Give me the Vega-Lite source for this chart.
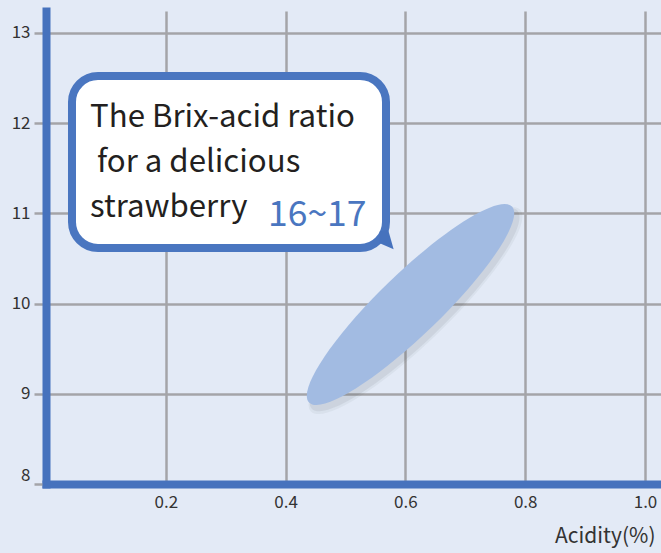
{
  "$schema": "https://vega.github.io/schema/vega-lite/v6.json",
  "width": 615,
  "height": 473,
  "autosize": {"type": "none"},
  "padding": {"left": 46, "top": 11, "right": 0, "bottom": 69},
  "background": "#e3eaf6",
  "config": {"view": {"stroke": null}, "font": "Noto Sans CJK JP"},
  "datasets": {
    "region": [{"acidity": 0.6085, "brix": 9.99, "name": "delicious strawberry"}],
    "bubble": [{"x1": 0.0434, "x2": 0.5676, "y1": 10.616, "y2": 12.523}],
    "tail": [{"x": 0.5693, "y": 10.683}],
    "notes": [
      {"x": 0.0735, "y": 11.958, "text": "The Brix-acid ratio", "kind": "body"},
      {"x": 0.0851, "y": 11.459, "text": "for a delicious", "kind": "body"},
      {"x": 0.0735, "y": 10.96, "text": "strawberry", "kind": "body"},
      {"x": 0.3706, "y": 10.86, "text": "16~17", "kind": "ratio"}
    ]
  },
  "layer": [
    {
      "data": {"name": "region"},
      "mark": {
        "type": "point",
        "filled": true,
        "shape": "M 1,0 C 1,0.1215 0.5523,0.22 0,0.22 C -0.5523,0.22 -1,0.1215 -1,0 C -1,-0.1215 -0.5523,-0.22 0,-0.22 C 0.5523,-0.22 1,-0.1215 1,0 Z",
        "angle": -44,
        "size": 84500,
        "color": "#4a4f5c",
        "opacity": 0.06,
        "xOffset": 5,
        "yOffset": 6
      },
      "encoding": {
        "x": {
          "field": "acidity",
          "type": "quantitative",
          "scale": {"domain": [0, 1.0267], "nice": false, "zero": false},
          "axis": {
            "values": [0.2, 0.4, 0.6, 0.8, 1.0],
            "format": ".1f",
            "title": "Acidity(%)",
            "titleFontSize": 21,
            "titleFontWeight": "normal",
            "titleColor": "#333333",
            "titleAnchor": "end",
            "titleAlign": "right",
            "titleBaseline": "alphabetic",
            "titleX": 609,
            "titleY": 58,
            "domainColor": "#4672bd",
            "domainWidth": 8,
            "domainCap": "square",
            "grid": true,
            "gridColor": "#a4a4a8",
            "gridWidth": 2.5,
            "ticks": false,
            "labelPadding": 10,
            "labelFontSize": 17,
            "labelColor": "#333333"
          }
        },
        "y": {
          "field": "brix",
          "type": "quantitative",
          "scale": {"domain": [8, 13.2439], "nice": false, "zero": false},
          "axis": {
            "values": [8, 9, 10, 11, 12, 13],
            "format": "d",
            "title": null,
            "domainColor": "#4672bd",
            "domainWidth": 8,
            "domainCap": "square",
            "grid": true,
            "gridColor": {"condition": {"test": "datum.value == 8", "value": "transparent"}, "value": "#a4a4a8"},
            "gridWidth": 2.5,
            "tickColor": "#a4a4a8",
            "tickWidth": 2.5,
            "tickSize": 12,
            "labelPadding": 4,
            "labelFontSize": 17,
            "labelColor": "#333333",
            "labelBaseline": {"condition": {"test": "datum.value == 8", "value": "bottom"}, "value": "middle"}
          }
        }
      }
    },
    {
      "data": {"name": "region"},
      "mark": {
        "type": "point",
        "filled": true,
        "shape": "M 1,0 C 1,0.1215 0.5523,0.22 0,0.22 C -0.5523,0.22 -1,0.1215 -1,0 C -1,-0.1215 -0.5523,-0.22 0,-0.22 C 0.5523,-0.22 1,-0.1215 1,0 Z",
        "angle": -44,
        "size": 81500,
        "color": "#4a4f5c",
        "opacity": 0.09,
        "xOffset": 4,
        "yOffset": 5
      },
      "encoding": {
        "x": {"field": "acidity", "type": "quantitative"},
        "y": {"field": "brix", "type": "quantitative"}
      }
    },
    {
      "data": {"name": "region"},
      "mark": {
        "type": "point",
        "filled": true,
        "shape": "M 1,0 C 1,0.1215 0.5523,0.22 0,0.22 C -0.5523,0.22 -1,0.1215 -1,0 C -1,-0.1215 -0.5523,-0.22 0,-0.22 C 0.5523,-0.22 1,-0.1215 1,0 Z",
        "angle": -44,
        "size": 79524,
        "color": "#a2bbe2",
        "opacity": 1
      },
      "encoding": {
        "x": {"field": "acidity", "type": "quantitative"},
        "y": {"field": "brix", "type": "quantitative"}
      }
    },
    {
      "data": {"name": "bubble"},
      "mark": {"type": "rect", "fill": "#ffffff", "stroke": "#4a76c0", "strokeWidth": 8, "cornerRadius": 26},
      "encoding": {
        "x": {"field": "x1", "type": "quantitative"},
        "x2": {"field": "x2"},
        "y": {"field": "y1", "type": "quantitative"},
        "y2": {"field": "y2"}
      }
    },
    {
      "data": {"name": "tail"},
      "mark": {
        "type": "point",
        "filled": true,
        "shape": "M -0.6,-0.9 L 0.1,-1 L 0.55,0.6 L -0.6,0.1 Z",
        "size": 576,
        "color": "#4672bd",
        "opacity": 1
      },
      "encoding": {
        "x": {"field": "x", "type": "quantitative"},
        "y": {"field": "y", "type": "quantitative"}
      }
    },
    {
      "data": {"name": "notes"},
      "mark": {"type": "text", "align": "left", "baseline": "alphabetic", "font": "Noto Sans CJK JP"},
      "encoding": {
        "x": {"field": "x", "type": "quantitative"},
        "y": {"field": "y", "type": "quantitative"},
        "text": {"field": "text"},
        "color": {"field": "kind", "type": "nominal", "scale": {"domain": ["body", "ratio"], "range": ["#231f20", "#4a76c0"]}, "legend": null},
        "size": {"field": "kind", "type": "nominal", "scale": {"domain": ["body", "ratio"], "range": [31.2, 35.5]}, "legend": null}
      }
    }
  ]
}
